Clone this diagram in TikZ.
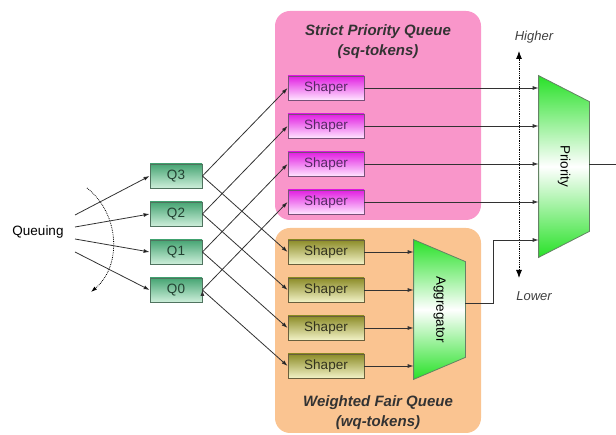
\documentclass[tikz,border=0pt]{standalone}
\usepackage{fontspec}
\setmainfont{Liberation Sans}
\usetikzlibrary{positioning, arrows.meta}

\definecolor{pinkbg}{RGB}{249,150,202}
\definecolor{peachbg}{RGB}{250,196,145}
\definecolor{qtop}{RGB}{70,165,115}
\definecolor{qbot}{RGB}{205,238,218}
\definecolor{qline}{RGB}{80,115,95}
\definecolor{qtext}{RGB}{35,65,50}
\definecolor{stop}{RGB}{225,30,225}
\definecolor{sbot}{RGB}{255,228,255}
\definecolor{sline}{RGB}{120,80,120}
\definecolor{stext}{RGB}{85,40,100}
\definecolor{wtop}{RGB}{140,140,40}
\definecolor{wbot}{RGB}{242,242,198}
\definecolor{wline}{RGB}{105,95,60}
\definecolor{wtext}{RGB}{50,50,30}
\definecolor{trapgreen}{RGB}{40,225,40}
\definecolor{trapline}{RGB}{100,130,100}
\definecolor{wire}{RGB}{50,50,50}

\begin{document}
\begin{tikzpicture}[x=1pt,y=-1pt,node distance=38pt,on grid,
  >={Latex[length=6pt,width=4pt]},
  font=\fontsize{13.5}{16}\selectfont,
  every path/.style={line width=0.8pt},
  queue/.style={draw=qline, top color=qtop, bottom color=qbot, text=qtext,
    minimum width=52pt, minimum height=24pt, inner sep=0pt},
  sqshaper/.style={draw=sline, top color=stop, bottom color=sbot, text=stext,
    minimum width=76pt, minimum height=24pt, inner sep=0pt},
  wqshaper/.style={draw=wline, top color=wtop, bottom color=wbot, text=wtext,
    minimum width=76pt, minimum height=24pt, inner sep=0pt},
  trapbox/.style={minimum width=#1, inner sep=0pt},
  trap/.style={draw=trapline, top color=trapgreen, bottom color=trapgreen,
    middle color=white},
  scale arrow/.style={{Latex[length=8pt,width=6pt]}-{Latex[length=8pt,width=6pt]},
    densely dotted, black},
  title/.style={align=center, text=black!80, font=\fontsize{15}{20}\selectfont\bfseries\itshape},
  level/.style={text=black!75, font=\fontsize{13}{16}\selectfont\itshape}]

  \useasboundingbox (0,0) rectangle (616,435);

  % the two queue groups
  \fill[pinkbg, rounded corners=15pt] (275,11) rectangle (481,220);
  \fill[peachbg, rounded corners=15pt] (275,228) rectangle (481,433);
  \node[title] (sqtitle) at (378,42) {Strict Priority Queue\\(sq-tokens)};
  \node[title] (wqtitle) at (378,413) {Weighted Fair Queue\\(wq-tokens)};

  % queues
  \node (queuing) at (38,232) {Queuing};
  \node[queue] (q3) at (176,176) {Q3};
  \node[queue] (q2) [below=of q3] {Q2};
  \node[queue] (q1) [below=of q2] {Q1};
  \node[queue] (q0) [below=of q1] {Q0};

  % shapers
  \node[sqshaper] (sp1) at (326,88) {Shaper};
  \node[sqshaper] (sp2) [below=of sp1] {Shaper};
  \node[sqshaper] (sp3) [below=of sp2] {Shaper};
  \node[sqshaper] (sp4) [below=of sp3] {Shaper};
  \node[wqshaper] (wf1) at (326,252) {Shaper};
  \node[wqshaper] (wf2) [below=of wf1] {Shaper};
  \node[wqshaper] (wf3) [below=of wf2] {Shaper};
  \node[wqshaper] (wf4) [below=of wf3] {Shaper};

  % aggregator and priority
  \node[trapbox=51pt, minimum height=139pt] (aggr) at (439.5,309.5) {};
  \shade[trap] (aggr.north west) -- ([yshift=-22pt]aggr.north east)
    -- ([yshift=22pt]aggr.south east) -- (aggr.south west) -- cycle;
  \node[rotate=-90] (aggrtxt) at (aggr) {Aggregator};
  \node[trapbox=50pt, minimum height=181pt] (prio) at (564,166.5) {};
  \shade[trap] (prio.north west) -- ([yshift=-26pt]prio.north east)
    -- ([yshift=26pt]prio.south east) -- (prio.south west) -- cycle;
  \node[rotate=-90] (priotxt) at (prio) {Priority};

  % priority scale
  \node[level] (higher) at (534,37) {Higher};
  \node[level] (lower) at (534,296) {Lower};
  \coordinate (hi) at (519,51);
  \coordinate (lo) at (519,278);
  \draw[scale arrow] (hi) -- (lo);

  % queuing into the queues
  \coordinate (in3) at (75,215);
  \coordinate (in2) at (75,227);
  \coordinate (in1) at (75,239);
  \coordinate (in0) at (75,252);
  \coordinate (arcs) at (87,188);
  \coordinate (arce) at (91,292);
  \draw[->, densely dotted, black] (arcs) .. controls (120,214) and (122,266) .. (arce);

  \path[->, draw=wire]
    (in3) edge (q3.west)
    (in2) edge (q2.west)
    (in1) edge (q1.west)
    (in0) edge (q0.west)
    (q3.east) edge (sp1.west)
              edge (wf1.west)
    (q2.east) edge (sp2.west)
              edge (wf2.west)
    (q1.east) edge (sp3.west)
              edge (wf3.west)
    (q0.east) edge (sp4.west)
              edge (wf4.west);

  \foreach \s in {sp1,sp2,sp3,sp4}
    \draw[->, wire] (\s.east) -- (\s.east -| prio.west);
  \foreach \s in {wf1,wf2,wf3,wf4}
    \draw[->, wire] (\s.east) -- (\s.east -| aggr.west);

  \coordinate (bend) at (493,240);
  \coordinate (out) at (616,164);
  \draw[->, wire] ([yshift=6pt]aggr.east) -| (bend) -- (bend -| prio.west);
  \draw[wire] (prio.east |- out) -- (out);
\end{tikzpicture}
\end{document}
